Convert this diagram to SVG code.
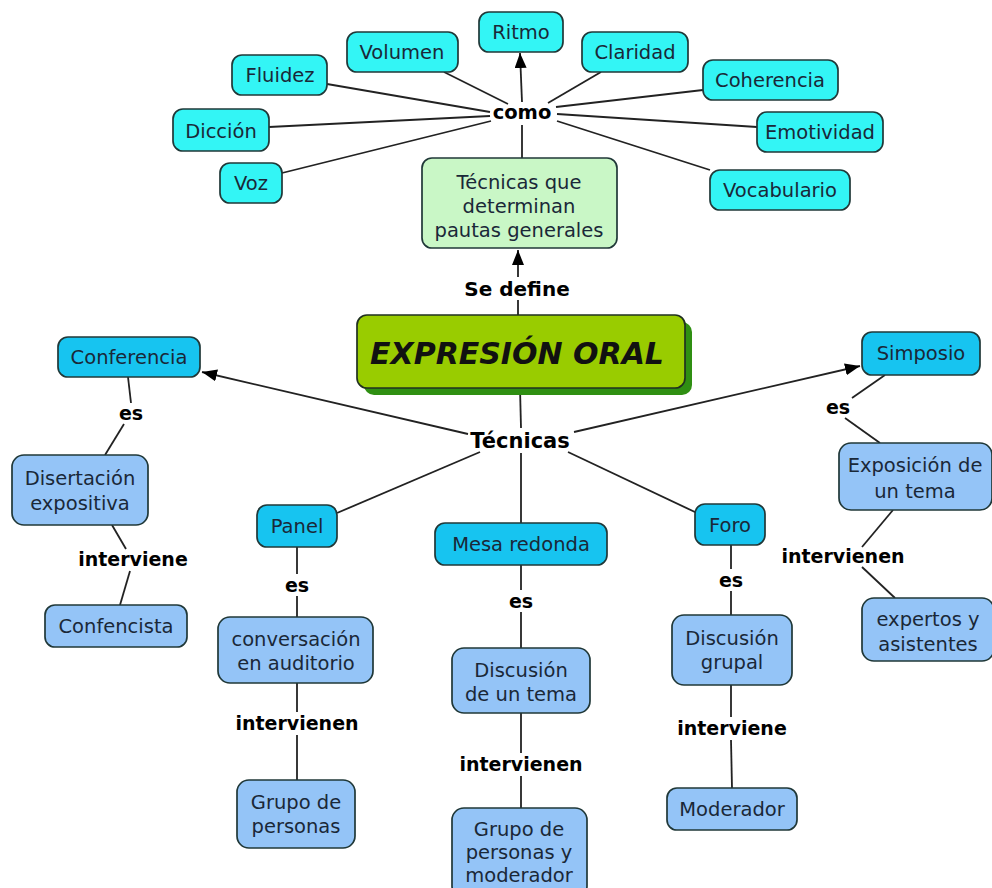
<svg xmlns="http://www.w3.org/2000/svg" width="992" height="888" viewBox="0 0 992 888">
<style>
.n rect{stroke:#203838;stroke-width:1.7}
.a rect{fill:#33f5f5}
.b rect{fill:#17c4f0}
.c rect{fill:#94c4f7}
.g rect{fill:#c9f7c6}
.n text{font-family:"DejaVu Sans",Verdana,sans-serif;font-size:19.5px;fill:#1a2838;text-anchor:middle}
.lbl{font-family:"DejaVu Sans",Verdana,sans-serif;font-size:19px;font-weight:bold;fill:#000;text-anchor:middle}
#conn line{stroke:#222;stroke-width:1.8;fill:none}
</style>
<defs>
<marker id="ar" viewBox="0 0 15 12" refX="15" refY="6" markerWidth="15" markerHeight="12" markerUnits="userSpaceOnUse" orient="auto">
<path d="M0,0 L15,6 L0,12 z" fill="#000"/>
</marker>
</defs>
<rect width="992" height="888" fill="#ffffff"/>
<g id="conn">
<line x1="444" y1="72" x2="508" y2="104"/>
<line x1="327" y1="84" x2="490" y2="112"/>
<line x1="269" y1="127" x2="490" y2="116"/>
<line x1="282" y1="173" x2="491" y2="121"/>
<line x1="522" y1="102" x2="520" y2="53" marker-end="url(#ar)"/>
<line x1="601" y1="72" x2="548" y2="103"/>
<line x1="703" y1="90" x2="556" y2="107"/>
<line x1="757" y1="127" x2="557" y2="114"/>
<line x1="710" y1="170" x2="557" y2="121"/>
<line x1="522" y1="158" x2="522" y2="125"/>
<line x1="518" y1="315" x2="518" y2="300"/>
<line x1="518" y1="277" x2="518" y2="250" marker-end="url(#ar)"/>
<line x1="520" y1="388" x2="521" y2="428"/>
<line x1="468" y1="434" x2="202" y2="372" marker-end="url(#ar)"/>
<line x1="574" y1="432" x2="860" y2="366" marker-end="url(#ar)"/>
<line x1="480" y1="452" x2="337" y2="513"/>
<line x1="521" y1="453" x2="521" y2="523"/>
<line x1="568" y1="452" x2="697" y2="513"/>
<line x1="128" y1="377" x2="131" y2="403"/>
<line x1="124" y1="424" x2="105" y2="455"/>
<line x1="112" y1="525" x2="126" y2="549"/>
<line x1="130" y1="571" x2="120" y2="605"/>
<line x1="297" y1="547" x2="297" y2="574"/>
<line x1="297" y1="596" x2="297" y2="617"/>
<line x1="297" y1="683" x2="297" y2="712"/>
<line x1="297" y1="735" x2="297" y2="780"/>
<line x1="521" y1="565" x2="521" y2="590"/>
<line x1="521" y1="612" x2="521" y2="648"/>
<line x1="521" y1="713" x2="521" y2="753"/>
<line x1="521" y1="776" x2="521" y2="808"/>
<line x1="731" y1="545" x2="731" y2="569"/>
<line x1="731" y1="591" x2="731" y2="615"/>
<line x1="731" y1="685" x2="731" y2="717"/>
<line x1="731" y1="740" x2="732" y2="788"/>
<line x1="885" y1="375" x2="852" y2="398"/>
<line x1="845" y1="418" x2="880" y2="443"/>
<line x1="893" y1="510" x2="862" y2="547"/>
<line x1="862" y1="567" x2="895" y2="598"/>
</g>
<g id="labels">
<text class="lbl" x="522" y="119" style="font-size:19.5px">como</text>
<text class="lbl" x="517" y="296" style="font-size:20px">Se define</text>
<text class="lbl" x="520" y="448" style="font-size:21px">Técnicas</text>
<text class="lbl" x="131" y="420">es</text>
<text class="lbl" x="133" y="566">interviene</text>
<text class="lbl" x="297" y="592">es</text>
<text class="lbl" x="297" y="730">intervienen</text>
<text class="lbl" x="521" y="608">es</text>
<text class="lbl" x="521" y="771">intervienen</text>
<text class="lbl" x="731" y="587">es</text>
<text class="lbl" x="732" y="735">interviene</text>
<text class="lbl" x="838" y="414">es</text>
<text class="lbl" x="843" y="563">intervienen</text>
</g>
<g id="ritmo" class="n a"><rect x="479" y="12" width="84" height="40" rx="10"/><text x="521" y="39">Ritmo</text></g>
<g id="volumen" class="n a"><rect x="347" y="32" width="111" height="40" rx="10"/><text x="402" y="59">Volumen</text></g>
<g id="fluidez" class="n a"><rect x="232" y="55" width="95" height="40" rx="10"/><text x="280" y="82">Fluidez</text></g>
<g id="diccion" class="n a"><rect x="173" y="109" width="96" height="42" rx="10"/><text x="221" y="138">Dicción</text></g>
<g id="voz" class="n a"><rect x="220" y="163" width="62" height="40" rx="10"/><text x="251" y="190">Voz</text></g>
<g id="claridad" class="n a"><rect x="582" y="32" width="106" height="40" rx="10"/><text x="635" y="59">Claridad</text></g>
<g id="coherencia" class="n a"><rect x="703" y="60" width="135" height="40" rx="10"/><text x="770" y="87">Coherencia</text></g>
<g id="emotividad" class="n a"><rect x="757" y="112" width="126" height="40" rx="10"/><text x="820" y="139">Emotividad</text></g>
<g id="vocabulario" class="n a"><rect x="710" y="170" width="140" height="40" rx="10"/><text x="780" y="197">Vocabulario</text></g>
<g id="tecnicas-pautas" class="n g"><rect x="422" y="158" width="195" height="90" rx="10"/><text x="519" y="189">Técnicas que</text><text x="519" y="213">determinan</text><text x="519" y="237">pautas generales</text></g>
<g id="expresion-oral">
<rect x="364" y="322" width="328" height="73" rx="10" fill="#2f8f12"/>
<rect x="357" y="315" width="328" height="73" rx="10" fill="#99cc00" stroke="#203020" stroke-width="1.7"/>
<text x="517" y="364" style="font-family:'DejaVu Sans',Verdana,sans-serif;font-size:30px;font-weight:bold;font-style:italic;fill:#111;text-anchor:middle">EXPRESIÓN ORAL</text>
</g>
<g id="conferencia" class="n b"><rect x="58" y="337" width="142" height="40" rx="10"/><text x="129" y="364">Conferencia</text></g>
<g id="simposio" class="n b"><rect x="862" y="332" width="118" height="43" rx="10"/><text x="921" y="360">Simposio</text></g>
<g id="panel" class="n b"><rect x="257" y="505" width="80" height="42" rx="10"/><text x="297" y="533">Panel</text></g>
<g id="mesa-redonda" class="n b"><rect x="435" y="523" width="172" height="42" rx="10"/><text x="521" y="551">Mesa redonda</text></g>
<g id="foro" class="n b"><rect x="695" y="504" width="70" height="41" rx="10"/><text x="730" y="532">Foro</text></g>
<g id="disertacion" class="n c"><rect x="12" y="455" width="136" height="70" rx="12"/><text x="80" y="485">Disertación</text><text x="80" y="510">expositiva</text></g>
<g id="confencista" class="n c"><rect x="45" y="605" width="142" height="42" rx="10"/><text x="116" y="633">Confencista</text></g>
<g id="exposicion" class="n c"><rect x="839" y="443" width="153" height="67" rx="12"/><text x="915" y="472">Exposición de</text><text x="915" y="498">un tema</text></g>
<g id="expertos" class="n c"><rect x="862" y="598" width="132" height="63" rx="12"/><text x="928" y="626">expertos y</text><text x="928" y="651">asistentes</text></g>
<g id="conversacion" class="n c"><rect x="218" y="617" width="155" height="66" rx="12"/><text x="296" y="646">conversación</text><text x="296" y="670">en auditorio</text></g>
<g id="grupo-personas" class="n c"><rect x="237" y="780" width="118" height="68" rx="12"/><text x="296" y="809">Grupo de</text><text x="296" y="833">personas</text></g>
<g id="discusion-tema" class="n c"><rect x="452" y="648" width="138" height="65" rx="12"/><text x="521" y="677">Discusión</text><text x="521" y="701">de un tema</text></g>
<g id="grupo-moderador" class="n c"><rect x="452" y="808" width="135" height="90" rx="12"/><text x="519" y="836">Grupo de</text><text x="519" y="859">personas y</text><text x="519" y="882">moderador</text></g>
<g id="discusion-grupal" class="n c"><rect x="672" y="615" width="120" height="70" rx="12"/><text x="732" y="645">Discusión</text><text x="732" y="669">grupal</text></g>
<g id="moderador" class="n c"><rect x="667" y="788" width="130" height="42" rx="10"/><text x="732" y="816">Moderador</text></g>
</svg>
